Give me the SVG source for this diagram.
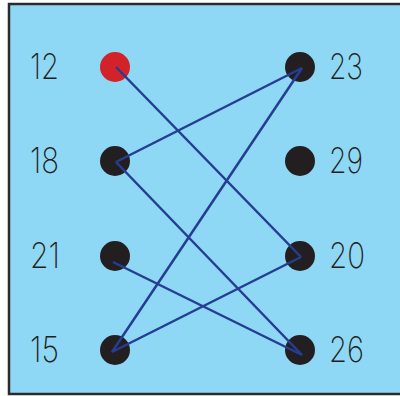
<svg xmlns="http://www.w3.org/2000/svg" width="400" height="396" viewBox="0 0 400 396">
<style>
.lbl{font-family:"Inter","Lato","Liberation Sans",sans-serif;font-weight:200;font-size:35px;fill:#231f20}
.dot{fill:#231f20}
.red{fill:#d2232a}
.edge{stroke:#253d92;stroke-width:2.5;fill:none}
</style>
<rect x="9" y="4" width="395" height="390" fill="#8ed8f6" stroke="#2b2b2b" stroke-width="2.5"/>
<g id="n12"><circle class="red" cx="115" cy="67" r="15"/><text class="lbl" x="30" y="79" textLength="29" lengthAdjust="spacingAndGlyphs">12</text></g>
<g id="n18"><circle class="dot" cx="115" cy="161" r="15"/><text class="lbl" x="30" y="173" textLength="29" lengthAdjust="spacingAndGlyphs">18</text></g>
<g id="n21"><circle class="dot" cx="115" cy="256" r="15"/><text class="lbl" x="30" y="268" textLength="30" lengthAdjust="spacingAndGlyphs">21</text></g>
<g id="n15"><circle class="dot" cx="115" cy="350" r="15"/><text class="lbl" x="30" y="362" textLength="29" lengthAdjust="spacingAndGlyphs">15</text></g>
<g id="n23"><circle class="dot" cx="300" cy="67" r="15"/><text class="lbl" x="329" y="79" textLength="34" lengthAdjust="spacingAndGlyphs">23</text></g>
<g id="n29"><circle class="dot" cx="300" cy="161" r="15"/><text class="lbl" x="329" y="173" textLength="34" lengthAdjust="spacingAndGlyphs">29</text></g>
<g id="n20"><circle class="dot" cx="300" cy="256" r="15"/><text class="lbl" x="329" y="268" textLength="36" lengthAdjust="spacingAndGlyphs">20</text></g>
<g id="n26"><circle class="dot" cx="300" cy="350" r="15"/><text class="lbl" x="329" y="362" textLength="35" lengthAdjust="spacingAndGlyphs">26</text></g>
<g id="edges">
<line class="edge" x1="116" y1="67" x2="301" y2="257"/>
<line class="edge" x1="116" y1="162" x2="302" y2="68"/>
<line class="edge" x1="116" y1="162" x2="302" y2="355"/>
<line class="edge" x1="113" y1="262" x2="302" y2="355"/>
<line class="edge" x1="112" y1="352" x2="302" y2="68"/>
<line class="edge" x1="112" y1="352" x2="301" y2="257"/>
</g>
</svg>
